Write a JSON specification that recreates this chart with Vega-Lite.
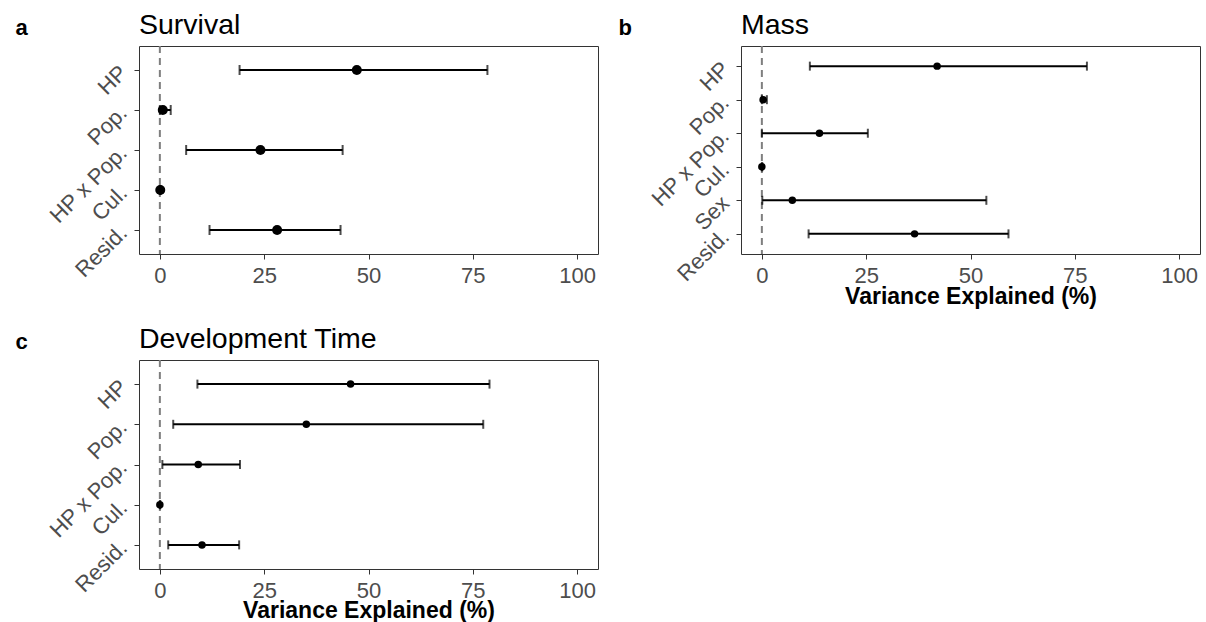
{
  "$schema": "https://vega.github.io/schema/vega-lite/v6.json",
  "background": "white",
  "padding": {"left": 14, "top": 10, "right": 4, "bottom": 0},
  "datasets": {
    "survival": [
      {"term": "HP", "est": 47.2, "low": 19.1, "high": 78.5},
      {"term": "Pop.", "est": 0.7, "low": 0.0, "high": 2.6},
      {"term": "HP x Pop.", "est": 24.1, "low": 6.3, "high": 43.8},
      {"term": "Cul.", "est": 0.1, "low": 0.0, "high": 0.2},
      {"term": "Resid.", "est": 28.1, "low": 11.9, "high": 43.3}
    ],
    "mass": [
      {"term": "HP", "est": 42.0, "low": 11.5, "high": 77.9},
      {"term": "Pop.", "est": 0.3, "low": 0.0, "high": 1.2},
      {"term": "HP x Pop.", "est": 13.8, "low": 0.0, "high": 25.4},
      {"term": "Cul.", "est": 0.0, "low": 0.0, "high": 0.1},
      {"term": "Sex", "est": 7.3, "low": 0.1, "high": 53.8},
      {"term": "Resid.", "est": 36.6, "low": 11.2, "high": 59.1}
    ],
    "devtime": [
      {"term": "HP", "est": 45.7, "low": 9.0, "high": 79.0},
      {"term": "Pop.", "est": 35.1, "low": 3.2, "high": 77.5},
      {"term": "HP x Pop.", "est": 9.2, "low": 0.6, "high": 19.2},
      {"term": "Cul.", "est": 0.0, "low": 0.0, "high": 0.1},
      {"term": "Resid.", "est": 10.1, "low": 2.0, "high": 19.0}
    ],
    "zero": [{"ref": 0}]
  },
  "columns": 2,
  "bounds": "flush",
  "spacing": {"row": 106, "column": 143},
  "config": {
    "font": "Liberation Sans",
    "view": {"stroke": "#333333", "strokeWidth": 1},
    "axis": {"grid": false, "domain": false, "tickColor": "#333333", "tickWidth": 1, "tickSize": 5, "labelColor": "#4d4d4d", "labelFontSize": 22, "labelFont": "Liberation Sans", "titleFont": "Liberation Sans", "titleColor": "#000000", "labelOverlap": false, "labelFlush": false},
    "axisY": {"labelFontSize": 22, "labelAngle": -45, "labelAlign": "right", "labelBaseline": "middle", "labelPadding": 11, "labelOffset": -1},
    "title": {"anchor": "start", "frame": "group", "fontSize": 28.5, "fontWeight": "normal", "font": "Liberation Sans", "color": "#000000", "baseline": "alphabetic", "offset": -23}
  },
  "concat": [
    {
      "width": 459, "height": 208,
      "title": "Survival",
      "layer": [
        {
          "data": {"name": "zero"},
          "mark": {"type": "rule", "strokeDash": [7, 5], "color": "#7f7f7f", "strokeWidth": 2},
          "encoding": {"x": {"field": "ref", "type": "quantitative", "scale": {"domain": [-5, 105], "nice": false, "zero": false},
            "axis": {"values": [0, 25, 50, 75, 100], "title": null, "labelPadding": 6.5}}}
        },
        {
          "data": {"name": "survival"},
          "mark": {"type": "rule", "color": "#000000", "strokeWidth": 2},
          "encoding": {
            "x": {"field": "low", "type": "quantitative"},
            "x2": {"field": "high"},
            "y": {"field": "term", "type": "nominal", "sort": ["HP", "Pop.", "HP x Pop.", "Cul.", "Resid."], "scale": {"type": "point", "padding": 0.6},
              "axis": {"title": "a", "titleAngle": 0, "titleAlign": "left", "titleBaseline": "alphabetic", "titleX": -124, "titleY": -12, "titleFontSize": 22, "titleFontWeight": "bold"}}
          }
        },
        {
          "data": {"name": "survival"},
          "mark": {"type": "tick", "color": "#000000", "thickness": 2, "size": 10},
          "encoding": {"x": {"field": "low", "type": "quantitative"}, "y": {"field": "term", "type": "nominal", "sort": ["HP", "Pop.", "HP x Pop.", "Cul.", "Resid."]}}
        },
        {
          "data": {"name": "survival"},
          "mark": {"type": "tick", "color": "#000000", "thickness": 2, "size": 10},
          "encoding": {"x": {"field": "high", "type": "quantitative"}, "y": {"field": "term", "type": "nominal", "sort": ["HP", "Pop.", "HP x Pop.", "Cul.", "Resid."]}}
        },
        {
          "data": {"name": "survival"},
          "mark": {"type": "circle", "color": "#000000", "opacity": 1, "size": 100},
          "encoding": {"x": {"field": "est", "type": "quantitative"}, "y": {"field": "term", "type": "nominal", "sort": ["HP", "Pop.", "HP x Pop.", "Cul.", "Resid."]}}
        }
      ]
    },
    {
      "width": 459, "height": 208,
      "title": "Mass",
      "layer": [
        {
          "data": {"name": "zero"},
          "mark": {"type": "rule", "strokeDash": [7, 5], "color": "#7f7f7f", "strokeWidth": 2},
          "encoding": {"x": {"field": "ref", "type": "quantitative", "scale": {"domain": [-5, 105], "nice": false, "zero": false},
            "axis": {"values": [0, 25, 50, 75, 100], "title": "Variance Explained (%)", "titleFontSize": 23, "titleFontWeight": "bold", "titlePadding": -1, "labelPadding": 6.5}}}
        },
        {
          "data": {"name": "mass"},
          "mark": {"type": "rule", "color": "#000000", "strokeWidth": 2},
          "encoding": {
            "x": {"field": "low", "type": "quantitative"},
            "x2": {"field": "high"},
            "y": {"field": "term", "type": "nominal", "sort": ["HP", "Pop.", "HP x Pop.", "Cul.", "Sex", "Resid."], "scale": {"type": "point", "padding": 0.6},
              "axis": {"title": "b", "titleAngle": 0, "titleAlign": "left", "titleBaseline": "alphabetic", "titleX": -123, "titleY": -12, "titleFontSize": 22, "titleFontWeight": "bold"}}
          }
        },
        {
          "data": {"name": "mass"},
          "mark": {"type": "tick", "color": "#000000", "thickness": 2, "size": 9},
          "encoding": {"x": {"field": "low", "type": "quantitative"}, "y": {"field": "term", "type": "nominal", "sort": ["HP", "Pop.", "HP x Pop.", "Cul.", "Sex", "Resid."]}}
        },
        {
          "data": {"name": "mass"},
          "mark": {"type": "tick", "color": "#000000", "thickness": 2, "size": 9},
          "encoding": {"x": {"field": "high", "type": "quantitative"}, "y": {"field": "term", "type": "nominal", "sort": ["HP", "Pop.", "HP x Pop.", "Cul.", "Sex", "Resid."]}}
        },
        {
          "data": {"name": "mass"},
          "mark": {"type": "circle", "color": "#000000", "opacity": 1, "size": 56},
          "encoding": {"x": {"field": "est", "type": "quantitative"}, "y": {"field": "term", "type": "nominal", "sort": ["HP", "Pop.", "HP x Pop.", "Cul.", "Sex", "Resid."]}}
        }
      ]
    },
    {
      "width": 459, "height": 209,
      "title": "Development Time",
      "layer": [
        {
          "data": {"name": "zero"},
          "mark": {"type": "rule", "strokeDash": [7, 5], "color": "#7f7f7f", "strokeWidth": 2},
          "encoding": {"x": {"field": "ref", "type": "quantitative", "scale": {"domain": [-5, 105], "nice": false, "zero": false},
            "axis": {"values": [0, 25, 50, 75, 100], "title": "Variance Explained (%)", "titleFontSize": 23, "titleFontWeight": "bold", "titlePadding": -2, "labelPadding": 6.5}}}
        },
        {
          "data": {"name": "devtime"},
          "mark": {"type": "rule", "color": "#000000", "strokeWidth": 2},
          "encoding": {
            "x": {"field": "low", "type": "quantitative"},
            "x2": {"field": "high"},
            "y": {"field": "term", "type": "nominal", "sort": ["HP", "Pop.", "HP x Pop.", "Cul.", "Resid."], "scale": {"type": "point", "padding": 0.6},
              "axis": {"title": "c", "titleAngle": 0, "titleAlign": "left", "titleBaseline": "alphabetic", "titleX": -124, "titleY": -12, "titleFontSize": 22, "titleFontWeight": "bold"}}
          }
        },
        {
          "data": {"name": "devtime"},
          "mark": {"type": "tick", "color": "#000000", "thickness": 2, "size": 9},
          "encoding": {"x": {"field": "low", "type": "quantitative"}, "y": {"field": "term", "type": "nominal", "sort": ["HP", "Pop.", "HP x Pop.", "Cul.", "Resid."]}}
        },
        {
          "data": {"name": "devtime"},
          "mark": {"type": "tick", "color": "#000000", "thickness": 2, "size": 9},
          "encoding": {"x": {"field": "high", "type": "quantitative"}, "y": {"field": "term", "type": "nominal", "sort": ["HP", "Pop.", "HP x Pop.", "Cul.", "Resid."]}}
        },
        {
          "data": {"name": "devtime"},
          "mark": {"type": "circle", "color": "#000000", "opacity": 1, "size": 56},
          "encoding": {"x": {"field": "est", "type": "quantitative"}, "y": {"field": "term", "type": "nominal", "sort": ["HP", "Pop.", "HP x Pop.", "Cul.", "Resid."]}}
        }
      ]
    }
  ]
}
